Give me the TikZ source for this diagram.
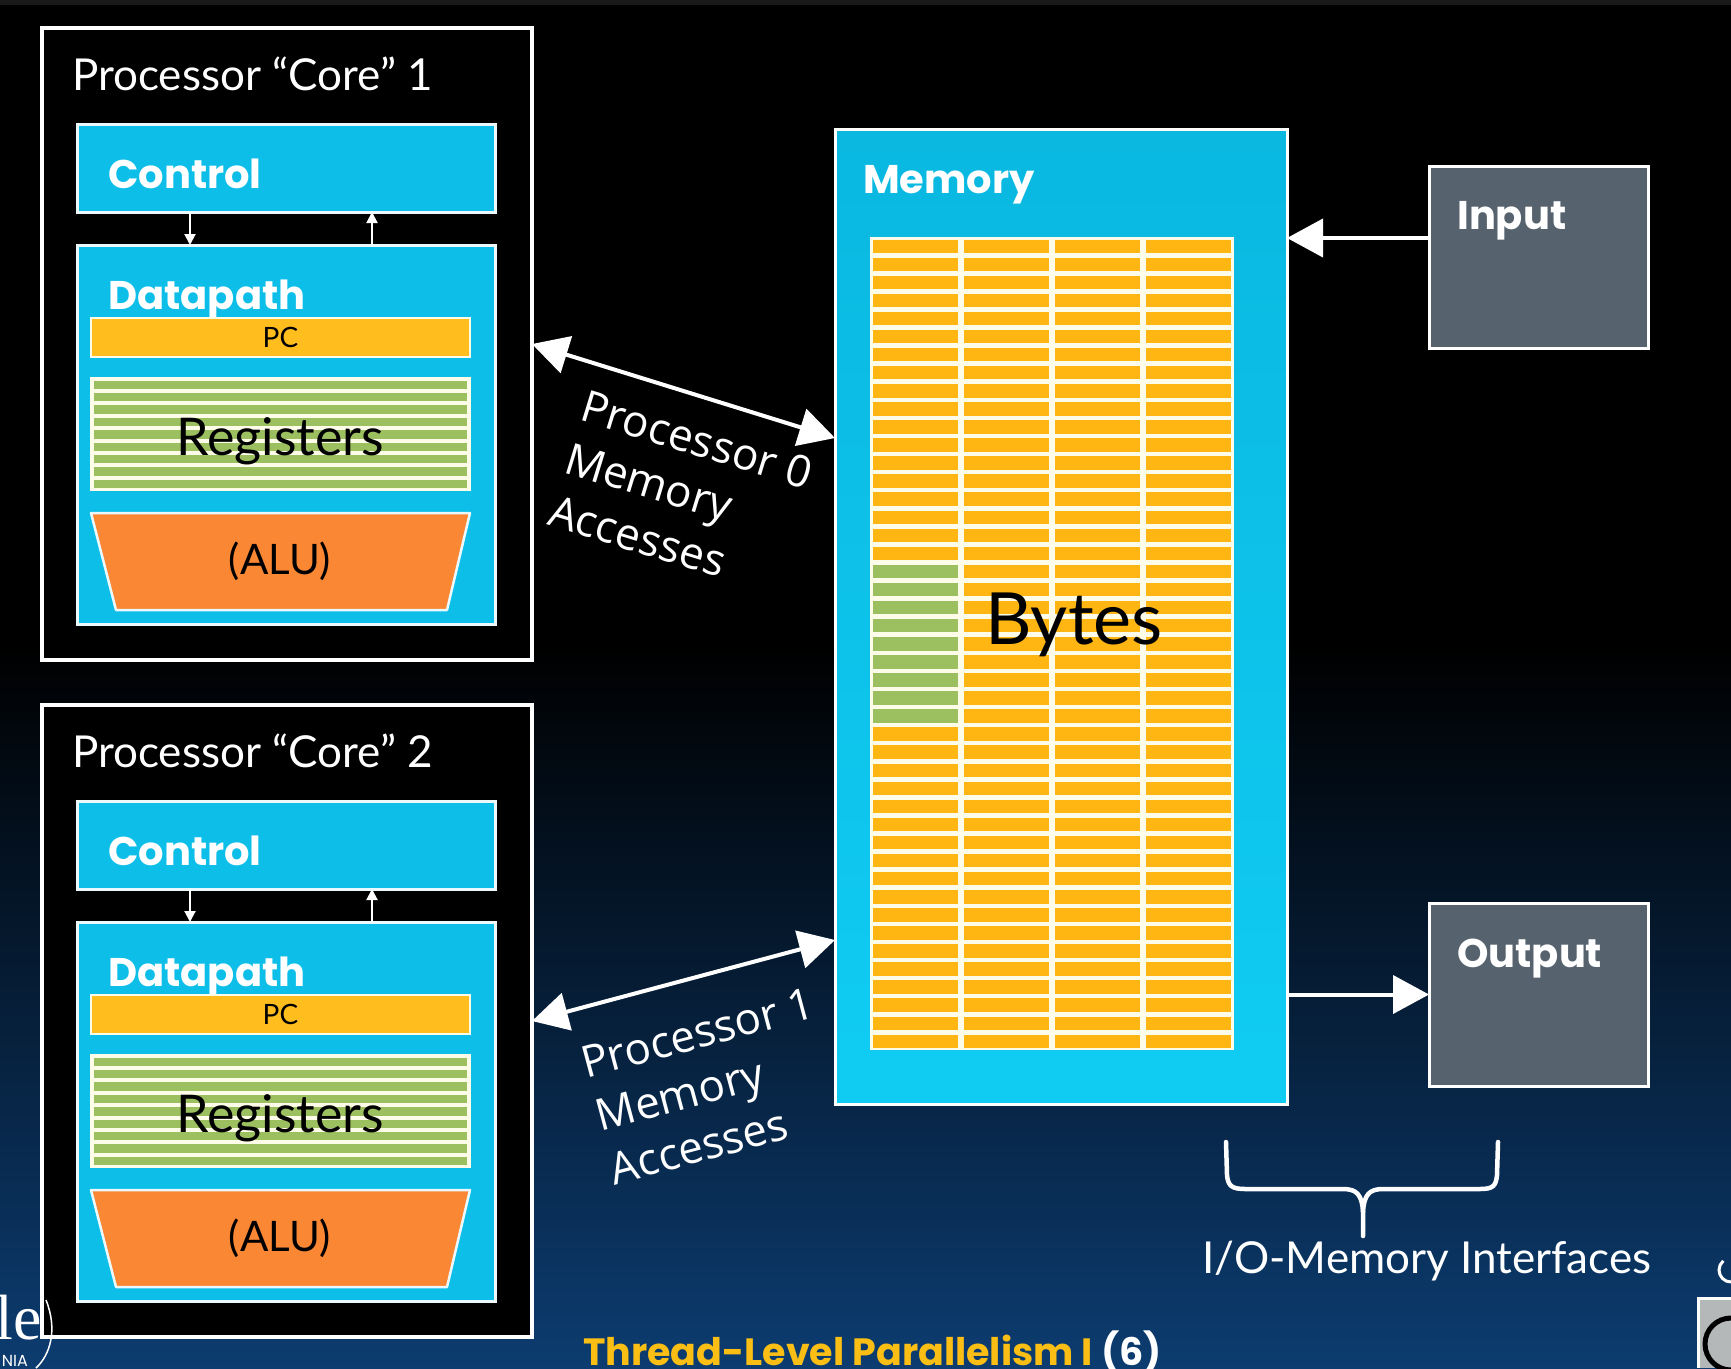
\documentclass[tikz,border=0pt]{standalone}
\usepackage{fontspec}
\setmainfont{Lato}
\newfontfamily\popfont{Poppins}
\newfontfamily\osfont{Open Sans}
\newfontfamily\serfont{Liberation Serif}
\usetikzlibrary{arrows.meta,calc}
\definecolor{cyanbox}{RGB}{12,190,232}
\definecolor{cyantop}{RGB}{10,184,224}
\definecolor{cyanbot}{RGB}{16,204,243}
\definecolor{bytecol}{RGB}{255,182,18}
\definecolor{pccol}{RGB}{255,190,30}
\definecolor{greencol}{RGB}{156,192,96}
\definecolor{alucol}{RGB}{250,135,52}
\definecolor{iogray}{RGB}{86,98,110}
\definecolor{navy}{RGB}{12,60,112}
\definecolor{footyellow}{RGB}{250,190,20}
\definecolor{cream}{RGB}{252,252,232}
\definecolor{edge}{RGB}{235,248,252}
\definecolor{logogray}{RGB}{180,184,184}
\tikzset{
  boxbase/.style={anchor=north west, inner sep=0pt, outer sep=0pt},
  corebox/.style={boxbase, draw=white, line width=3.5pt, fill=black, minimum width=490pt, minimum height=632pt},
  cyanrect/.style={boxbase, draw=edge, line width=3pt, fill=cyanbox, minimum width=418pt},
  pcbar/.style={boxbase, draw=cream, line width=2pt, fill=pccol, minimum width=379pt, minimum height=39pt},
  regbox/.style={boxbase, draw=cream, line width=2pt, fill=cream, minimum width=379pt, minimum height=112pt},
  iobox/.style={boxbase, draw=white, line width=3pt, fill=iogray, minimum width=219pt},
  lightlbl/.style={text=white, inner sep=0pt, font=\fontsize{44}{52}\selectfont},
  boldlbl/.style={text=white, inner sep=0pt, anchor=base west, font=\popfont\bfseries\fontsize{40}{48}\selectfont},
  darklbl/.style={text=black, inner sep=0pt},
  arrowlbl/.style={text=white, inner sep=0pt, align=left, font=\osfont\fontsize{44}{55}\selectfont},
  bigarrow/.style={draw=white, line width=4pt, >={Triangle[length=36pt,width=38pt]}},
  smallarrow/.style={draw=white, line width=2pt, >={Triangle[length=11pt,width=11pt]}},
  alushape/.style={fill=alucol, draw=edge, line width=2.5pt, line join=round},
  bracepath/.style={draw=white, line width=4.5pt, line cap=round, line join=round}
}
\newcommand{\drawcore}[2]{%
\begin{scope}[shift={(0,#2)}]
  \node[corebox] (core#1) at (42,28) {};
  \node[lightlbl, anchor=base west] (core#1lbl) at (72,90) {Processor “Core” #1};
  \node[cyanrect, minimum height=88pt] (ctrl#1) at (77,124) {};
  \node[boldlbl] (ctrl#1lbl) at (108,188) {Control};
  \node[cyanrect, minimum height=379pt] (dp#1) at (77,245) {};
  \node[boldlbl] (dp#1lbl) at (108,309) {Datapath};
  \node[pcbar] (pc#1) at (91,318) {};
  \node[darklbl, font=\fontsize{28}{32}\selectfont] (pc#1lbl) at (pc#1.center) {PC};
  \node[regbox] (reg#1) at (91,378) {};
  \foreach \k in {0,...,8} {\fill[greencol] (94,380.5+\k*12.4) rectangle (467,389+\k*12.4);}
  \node[darklbl, anchor=base, font=\fontsize{52}{60}\selectfont] (reg#1lbl) at (280,455) {Registers};
  \draw[alushape] (91,513) -- (470,513) -- (447,610) -- (116,610) -- cycle;
  \node[darklbl, font=\fontsize{42}{48}\selectfont] (alu#1lbl) at (280,561) {(ALU)};
  \draw[smallarrow,->] ($(ctrl#1.south west)+(113,0)$) -- ($(dp#1.north west)+(113,0)$);
  \draw[smallarrow,->] ($(dp#1.north west)+(295,0)$) -- ($(ctrl#1.south west)+(295,0)$);
\end{scope}}
\begin{document}
\begin{tikzpicture}[x=1pt,y=-1pt]
\useasboundingbox (0,0) rectangle (1731,1368);
% background
\fill[black] (0,0) rectangle (1731,1368);
\shade[top color=black, bottom color=navy] (0,645) rectangle (1731,1368);
\fill[black!80!gray] (0,0) rectangle (1731,5);

% cores
\drawcore{1}{0}
\drawcore{2}{677}

% memory
\node[boxbase, draw=white, line width=3pt, top color=cyantop, bottom color=cyanbot, minimum width=452pt, minimum height=975pt] (memory) at (835,129) {};
\node[boldlbl] (memlbl) at (863,193) {Memory};
\fill[cream] (870,237) rectangle (1234,1050);
\foreach \c in {0,...,3} {
  \foreach \r in {0,...,44} {
    \fill[bytecol] (873+\c*91,239.5+\r*18.07) rectangle (958+\c*91,253+\r*18.07);
  }
}
\foreach \r in {18,...,26} {
  \fill[greencol] (873,239.5+\r*18.07) rectangle (958,253+\r*18.07);
}
\node[darklbl, anchor=base, font=\fontsize{72}{80}\selectfont] (bytes) at (1074,644) {Bytes};

% input / output
\node[iobox, minimum height=182pt] (input) at (1429,166) {};
\node[boldlbl] (inlbl) at (1457,229) {Input};
\node[iobox, minimum height=183pt] (output) at (1429,903) {};
\node[boldlbl] (outlbl) at (1457,967) {Output};

\coordinate (inA) at ($(input.north west)+(0,72)$);
\draw[bigarrow,->] (inA) -- (memory.east |- inA);
\draw[bigarrow,->] (memory.east |- output.west) -- (output.west);

% processor-memory arrows
\coordinate (m0) at ($(memory.north west)+(0,309)$);
\coordinate (m1) at ($(memory.north west)+(0,811)$);
\draw[bigarrow,<->] (core1.east) -- (m0);
\draw[bigarrow,<->] (core2.east) -- (m1);
\node[arrowlbl, rotate=-17] (p0lbl) at (681,492) {Processor 0\\Memory\\Accesses};
\node[arrowlbl, rotate=15] (p1lbl) at (712,1086) {Processor 1\\Memory\\Accesses};

% brace
\draw[bracepath] (1226,1142) -- (1227,1175) .. controls (1228,1186) and (1232,1189) .. (1245,1189)
  -- (1343,1189) .. controls (1357,1189) and (1362,1195) .. (1363,1212) -- (1363,1236);
\draw[bracepath] (1363,1212) .. controls (1364,1195) and (1369,1189) .. (1383,1189)
  -- (1480,1189) .. controls (1493,1189) and (1496,1186) .. (1497,1175) -- (1498,1142);
\node[lightlbl, anchor=base] (iolbl) at (1427,1273) {I/O-Memory Interfaces};

% footer
\node[anchor=base west, inner sep=0pt, font=\popfont\bfseries\fontsize{38}{42}\selectfont] (footer) at (583,1365)
  {\textcolor{footyellow}{Thread-Level Parallelism I} \textcolor{white}{(6)}};

% logo fragments
\node[anchor=base east, inner sep=0pt, text=white, font=\serfont\fontsize{64}{66}\selectfont] (logole) at (42,1339) {le};
\node[anchor=base east, inner sep=0pt, text=white, font=\popfont\fontsize{16}{18}\selectfont] (logonia) at (28,1366) {NIA};
\draw[white, line width=1.5pt] (46,1300) .. controls (58,1330) and (50,1355) .. (36,1368);
\fill[white] (1697,1297) rectangle (1731,1368);
\fill[logogray] (1700,1300) rectangle (1731,1368);
\draw[black, line width=5pt] (1731,1370) arc[start angle=90, end angle=270, radius=26];
\draw[white, line width=3pt] (1731,1282) arc[start angle=90, end angle=230, radius=12];
\end{tikzpicture}
\end{document}
